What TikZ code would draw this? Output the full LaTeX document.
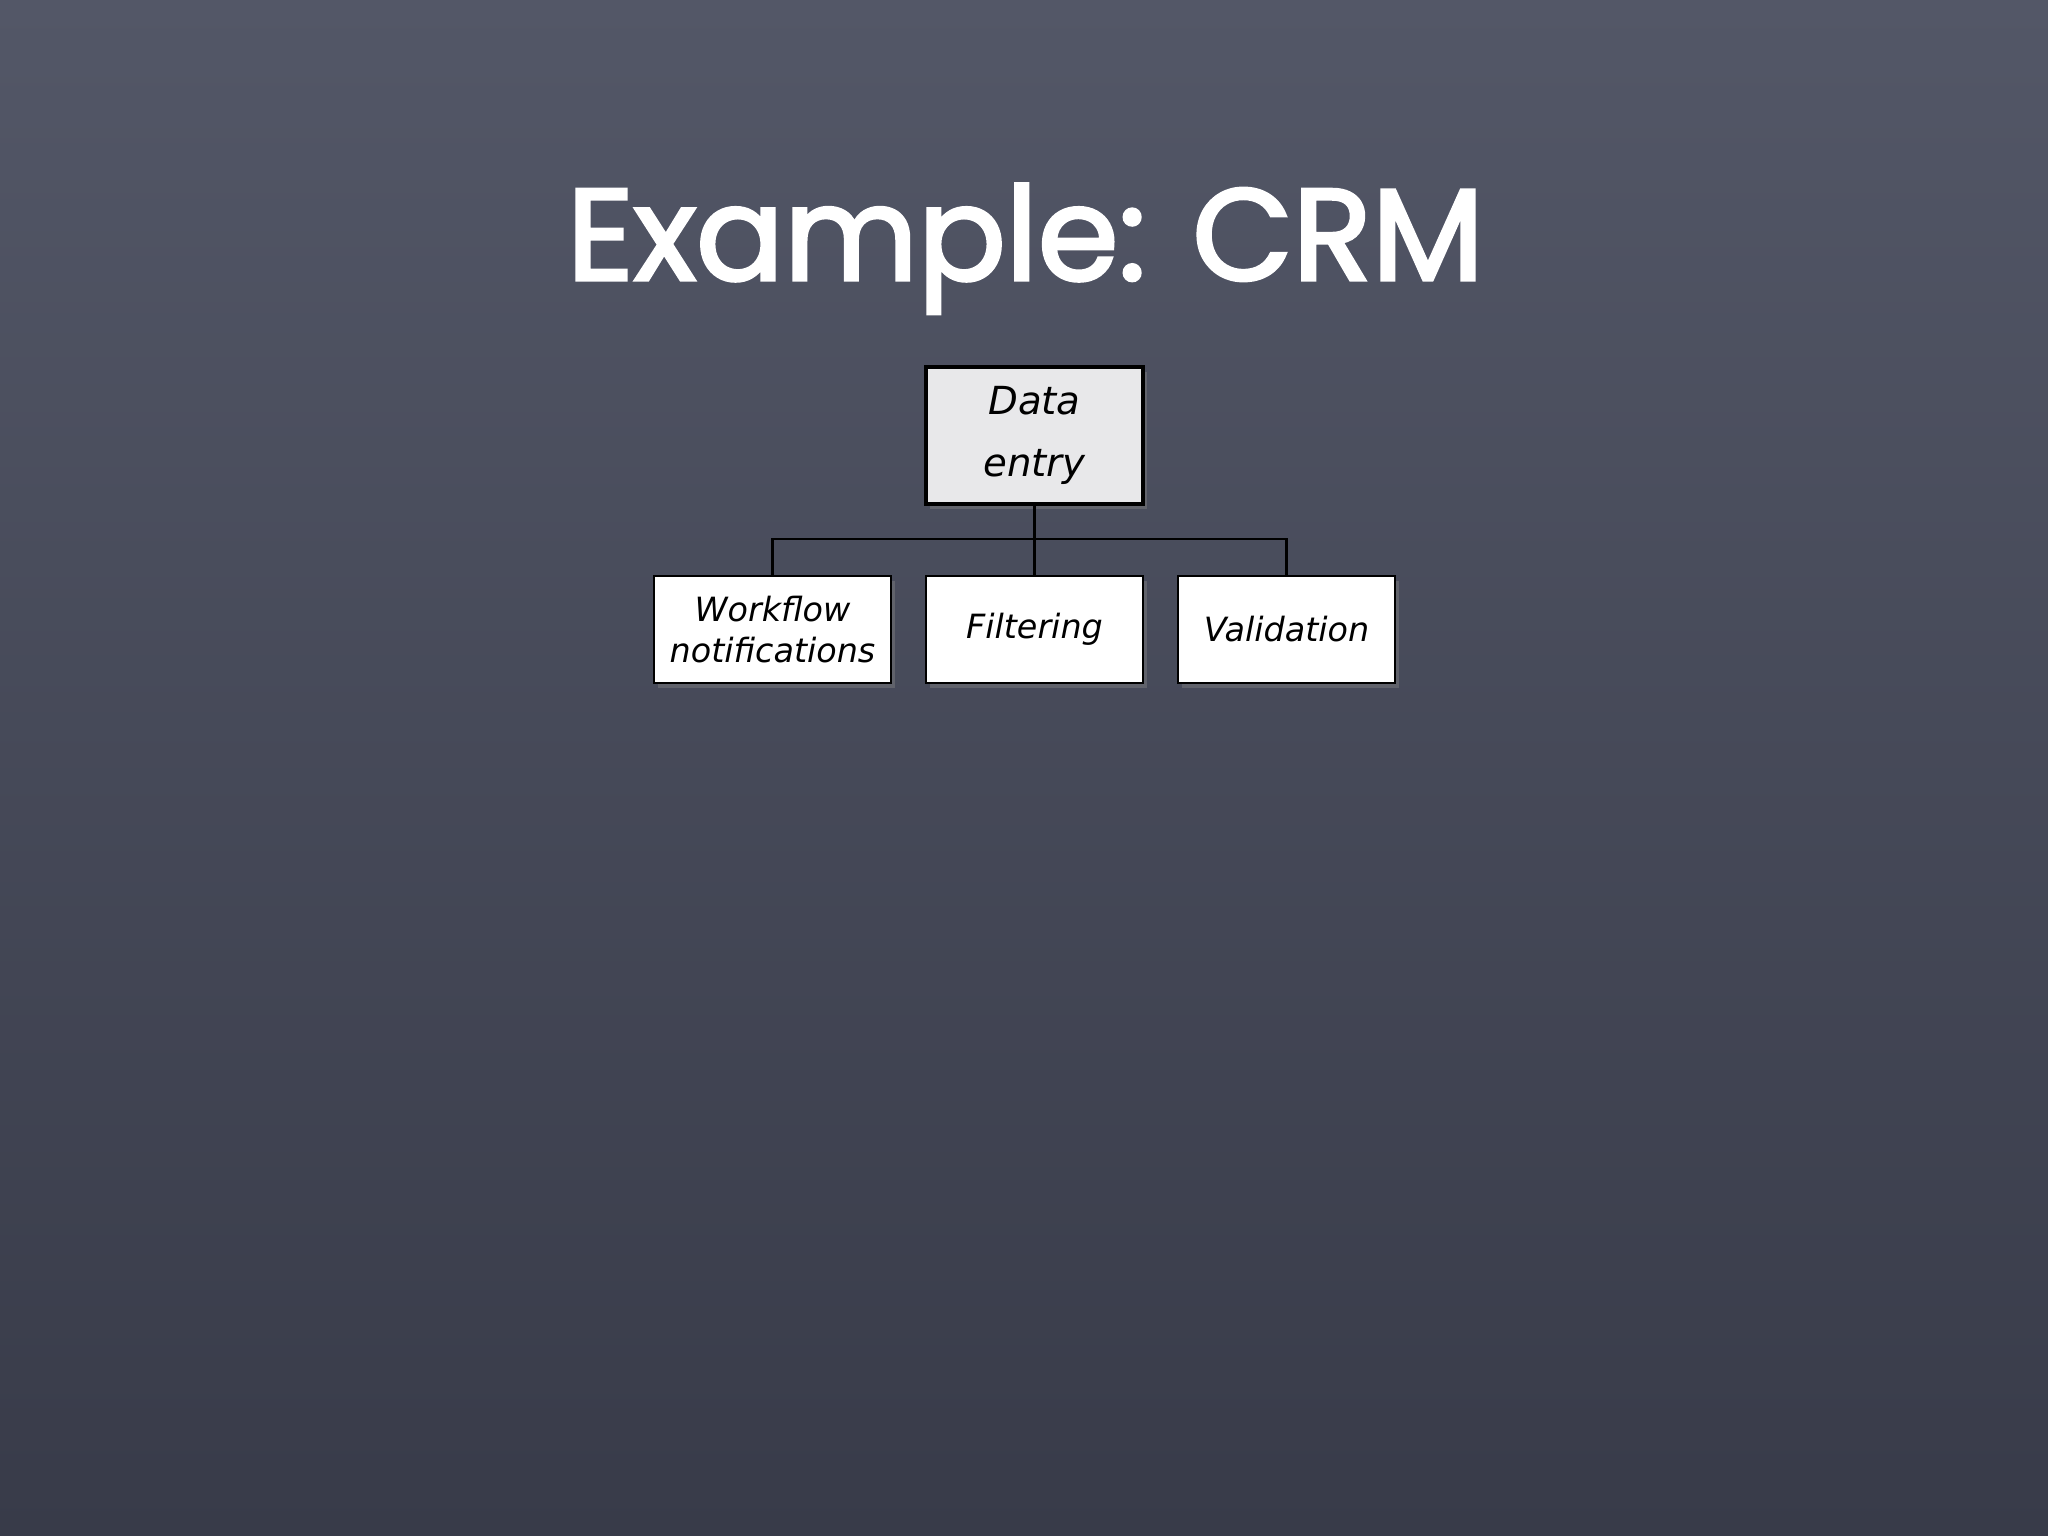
\documentclass[tikz,border=0pt]{standalone}
\usepackage{fontspec}
\setmainfont{Poppins}
\newfontfamily\titlefont[FakeBold=2.5]{Poppins}
\newfontfamily\handfont{DejaVu Sans}
\usetikzlibrary{positioning,shadows}

\definecolor{boardtop}{HTML}{535767}
\definecolor{boardmid}{HTML}{5E6376}
\definecolor{boardbot}{HTML}{383B49}
\definecolor{rootfill}{HTML}{E8E8EA}

\begin{document}
\begin{tikzpicture}[
	chart box/.style = {draw = black, fill = white, line width = 0.7pt, inner sep = 0pt,
		align = center, font = \handfont\itshape\fontsize{9.5}{11.7}\selectfont,
		drop shadow = {shadow xshift = 0.04cm, shadow yshift = -0.05cm, opacity = 0.45}},
	root box/.style = {chart box, fill = rootfill, line width = 1.3pt,
		minimum width = 2.17cm, minimum height = 1.37cm,
		font = \handfont\itshape\fontsize{11}{17.6}\selectfont},
	tree line/.style = {draw = black, line width = 0.6pt}
]
	% board
	\shade[top color = boardtop, middle color = boardmid, bottom color = boardbot]
		(0, 0) rectangle (20.48, -15.36);
	\useasboundingbox (0, 0) rectangle (20.48, -15.36);

	% title
	\node[anchor = base, text = white, font = \titlefont\fontsize{37}{44}\selectfont] (title) at ( 10.255, -2.80 ) {Example: CRM};

	% boxes
	\node[root box] (entry) at ( 10.345, -4.355 ) {Data\\entry};
	\node[chart box, minimum width = 2.37cm, minimum height = 1.07cm] (workflow) at ( 7.725, -6.295 ) {Workflow\\notifications};
	\node[chart box, minimum width = 2.17cm, minimum height = 1.07cm] (filtering) at ( 10.345, -6.295 ) {Filtering};
	\node[chart box, minimum width = 2.17cm, minimum height = 1.07cm] (validation) at ( 12.865, -6.295 ) {Validation};

	% connectors
	\coordinate (bus) at ( 10.345, -5.39 );
	\draw[tree line] (entry.south) -- (filtering.north);
	\draw[tree line] (workflow.north) |- (bus) -| (validation.north);
\end{tikzpicture}
\end{document}
